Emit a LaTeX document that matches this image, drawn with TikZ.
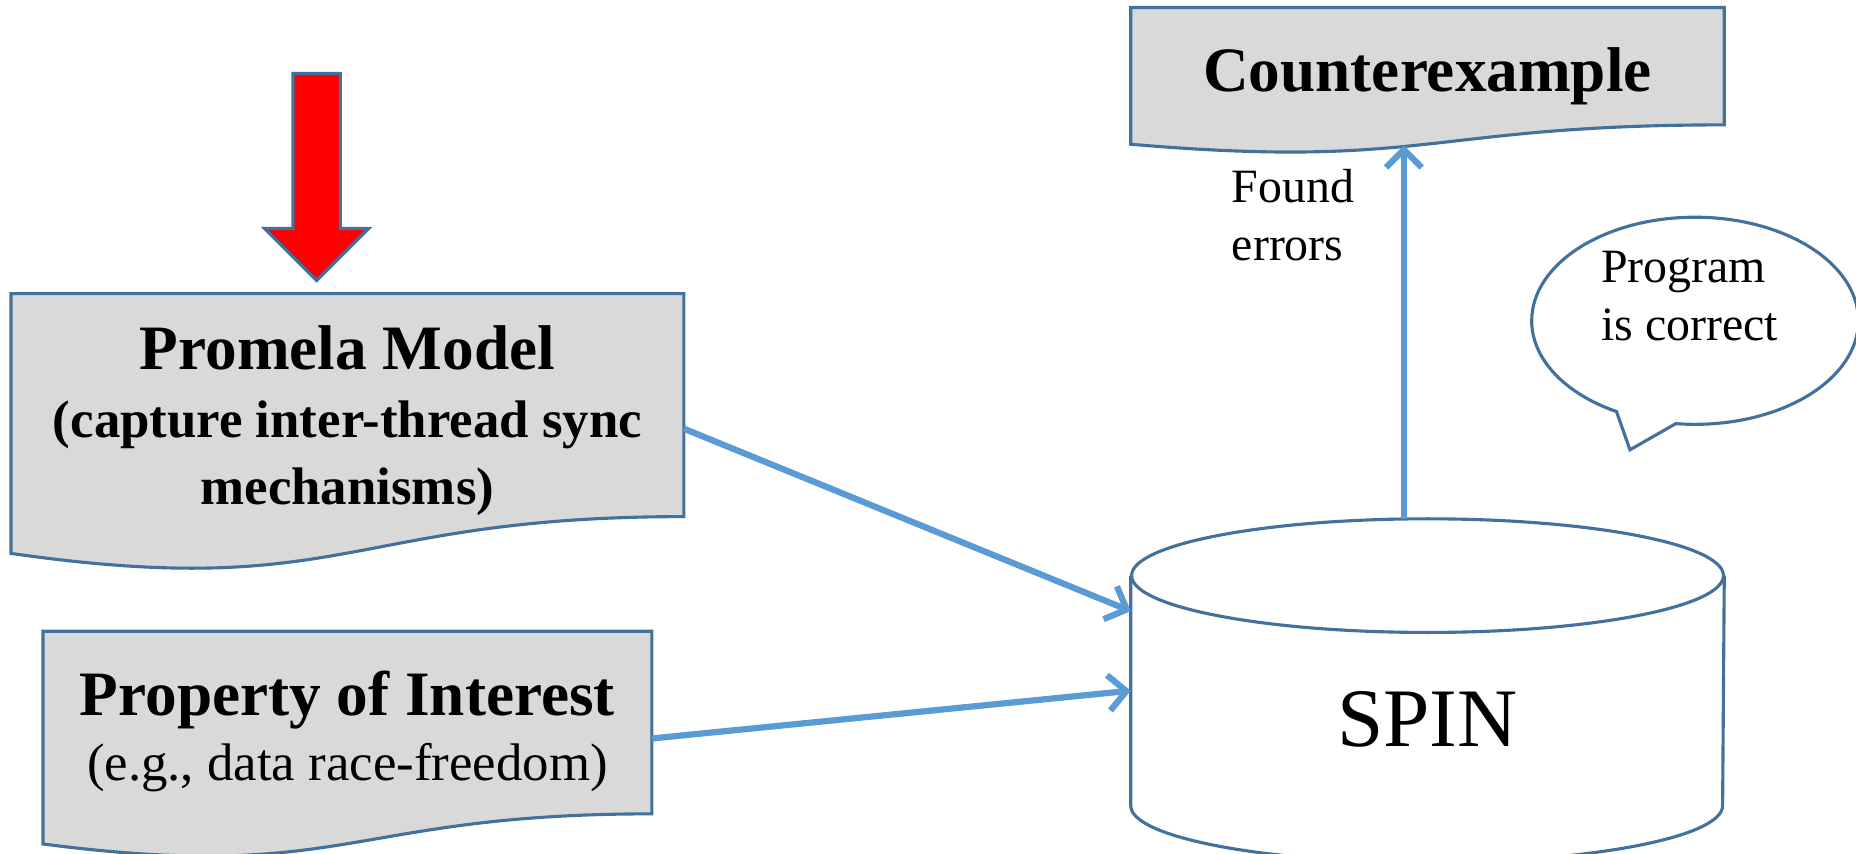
\documentclass[tikz,border=0pt]{standalone}
\usepackage{fontspec}
\setmainfont{Liberation Serif}
\usetikzlibrary{calc,arrows.meta,shapes.callouts,backgrounds}

\definecolor{boxgray}{HTML}{D9D9D9}
\definecolor{edgeblue}{HTML}{41719C}
\definecolor{flowblue}{HTML}{5B9BD5}

\newcommand{\headfont}{\fontsize{15.2}{18.5}\selectfont\bfseries}
\newcommand{\subfont}{\fontsize{12.7}{15.6}\selectfont}
\newcommand{\notefont}{\fontsize{11.5}{13.9}\selectfont}

\newcommand{\docoutline}[1]{%
  \path[docline] let \p1=(#1.north), \p2=(#1.south), \n1={\y1-\y2} in
    (#1.north west) -- (#1.north east) -- (#1.south east)
    .. controls (#1.south) and ($(#1.south)+(0,-0.381*\n1)$)
    .. ($(#1.south west)+(0,-0.165*\n1)$) -- cycle;}

\begin{document}
\begin{tikzpicture}[
  docbox/.style={rectangle, inner sep=0pt, align=center},
  docline/.style={draw=edgeblue, fill=boxgray, line width=0.75pt},
  cylline/.style={draw=edgeblue, line width=0.75pt},
  flow/.style={-{Straight Barb[length=1.5mm,width=3mm]}, draw=flowblue, line width=1.5pt},
  note/.style={font=\notefont, align=left, inner sep=0pt, anchor=west},
  bubble/.style={ellipse callout, draw=edgeblue, line width=0.75pt, fill=white, inner sep=0pt, minimum width=2.76cm, minimum height=1.75cm, callout pointer arc=22},
]
\useasboundingbox (0,0) rectangle (15.68,7.21);

\node[docbox, minimum width=5.67cm, minimum height=1.845cm] (promela) at (2.935,3.7875)
  {{\headfont\rule{0pt}{18pt}Promela Model}\\[4.5pt]{\subfont\bfseries (capture inter-thread sync}\\[4pt]{\subfont\bfseries mechanisms)}};
\node[docbox, minimum width=5.13cm, minimum height=1.529cm] (property) at (2.935,1.106)
  {{\headfont\rule{0pt}{15pt}Property of Interest}\\[2.5pt]{\subfont (e.g., data race-freedom)}};
\node[docbox, minimum width=5cm, minimum height=0.978cm, text height=15.5pt] (cex) at (12.06,6.651)
  {\headfont Counterexample};

\begin{scope}[on background layer]
\docoutline{promela}
\docoutline{property}
\docoutline{cex}
\end{scope}

\node[rectangle, minimum width=5cm, minimum height=1.93cm, inner sep=0pt] (spin) at (12.06,1.375) {};
\draw[cylline] (spin.north west) -- (spin.south west)
  arc[start angle=180, end angle=360, x radius=2.5cm, y radius=0.48cm] -- (spin.north east);
\draw[cylline] (spin.north) ellipse [x radius=2.5cm, y radius=0.48cm];
\node[inner sep=0pt, font=\fontsize{20}{24}\selectfont] (spinname) at ($(spin.center)+(0,-0.245)$) {SPIN};

\filldraw[draw=edgeblue, fill=red, line width=0.75pt]
  (2.475,6.59) -- (2.875,6.59) -- (2.875,5.28) -- (3.115,5.28) -- (2.675,4.84)
  -- (2.235,5.28) -- (2.475,5.28) -- cycle;

\node[bubble, callout absolute pointer={(13.77,3.41)}] (bubble) at (14.32,4.50) {};
\node[note] (correct) at (13.52,4.71) {Program\\is correct};

\draw[flow] (promela.-4.6) -- (spin.165.5);
\draw[flow] (property.-3.9) -- (spin.west);
\draw[flow] ($(spin.north)+(-0.2,0.48)$) -- ($(cex.south)+(-0.2,-0.172)$);
\node[note] (found) at (10.40,5.395) {Found\\errors};
\end{tikzpicture}
\end{document}
